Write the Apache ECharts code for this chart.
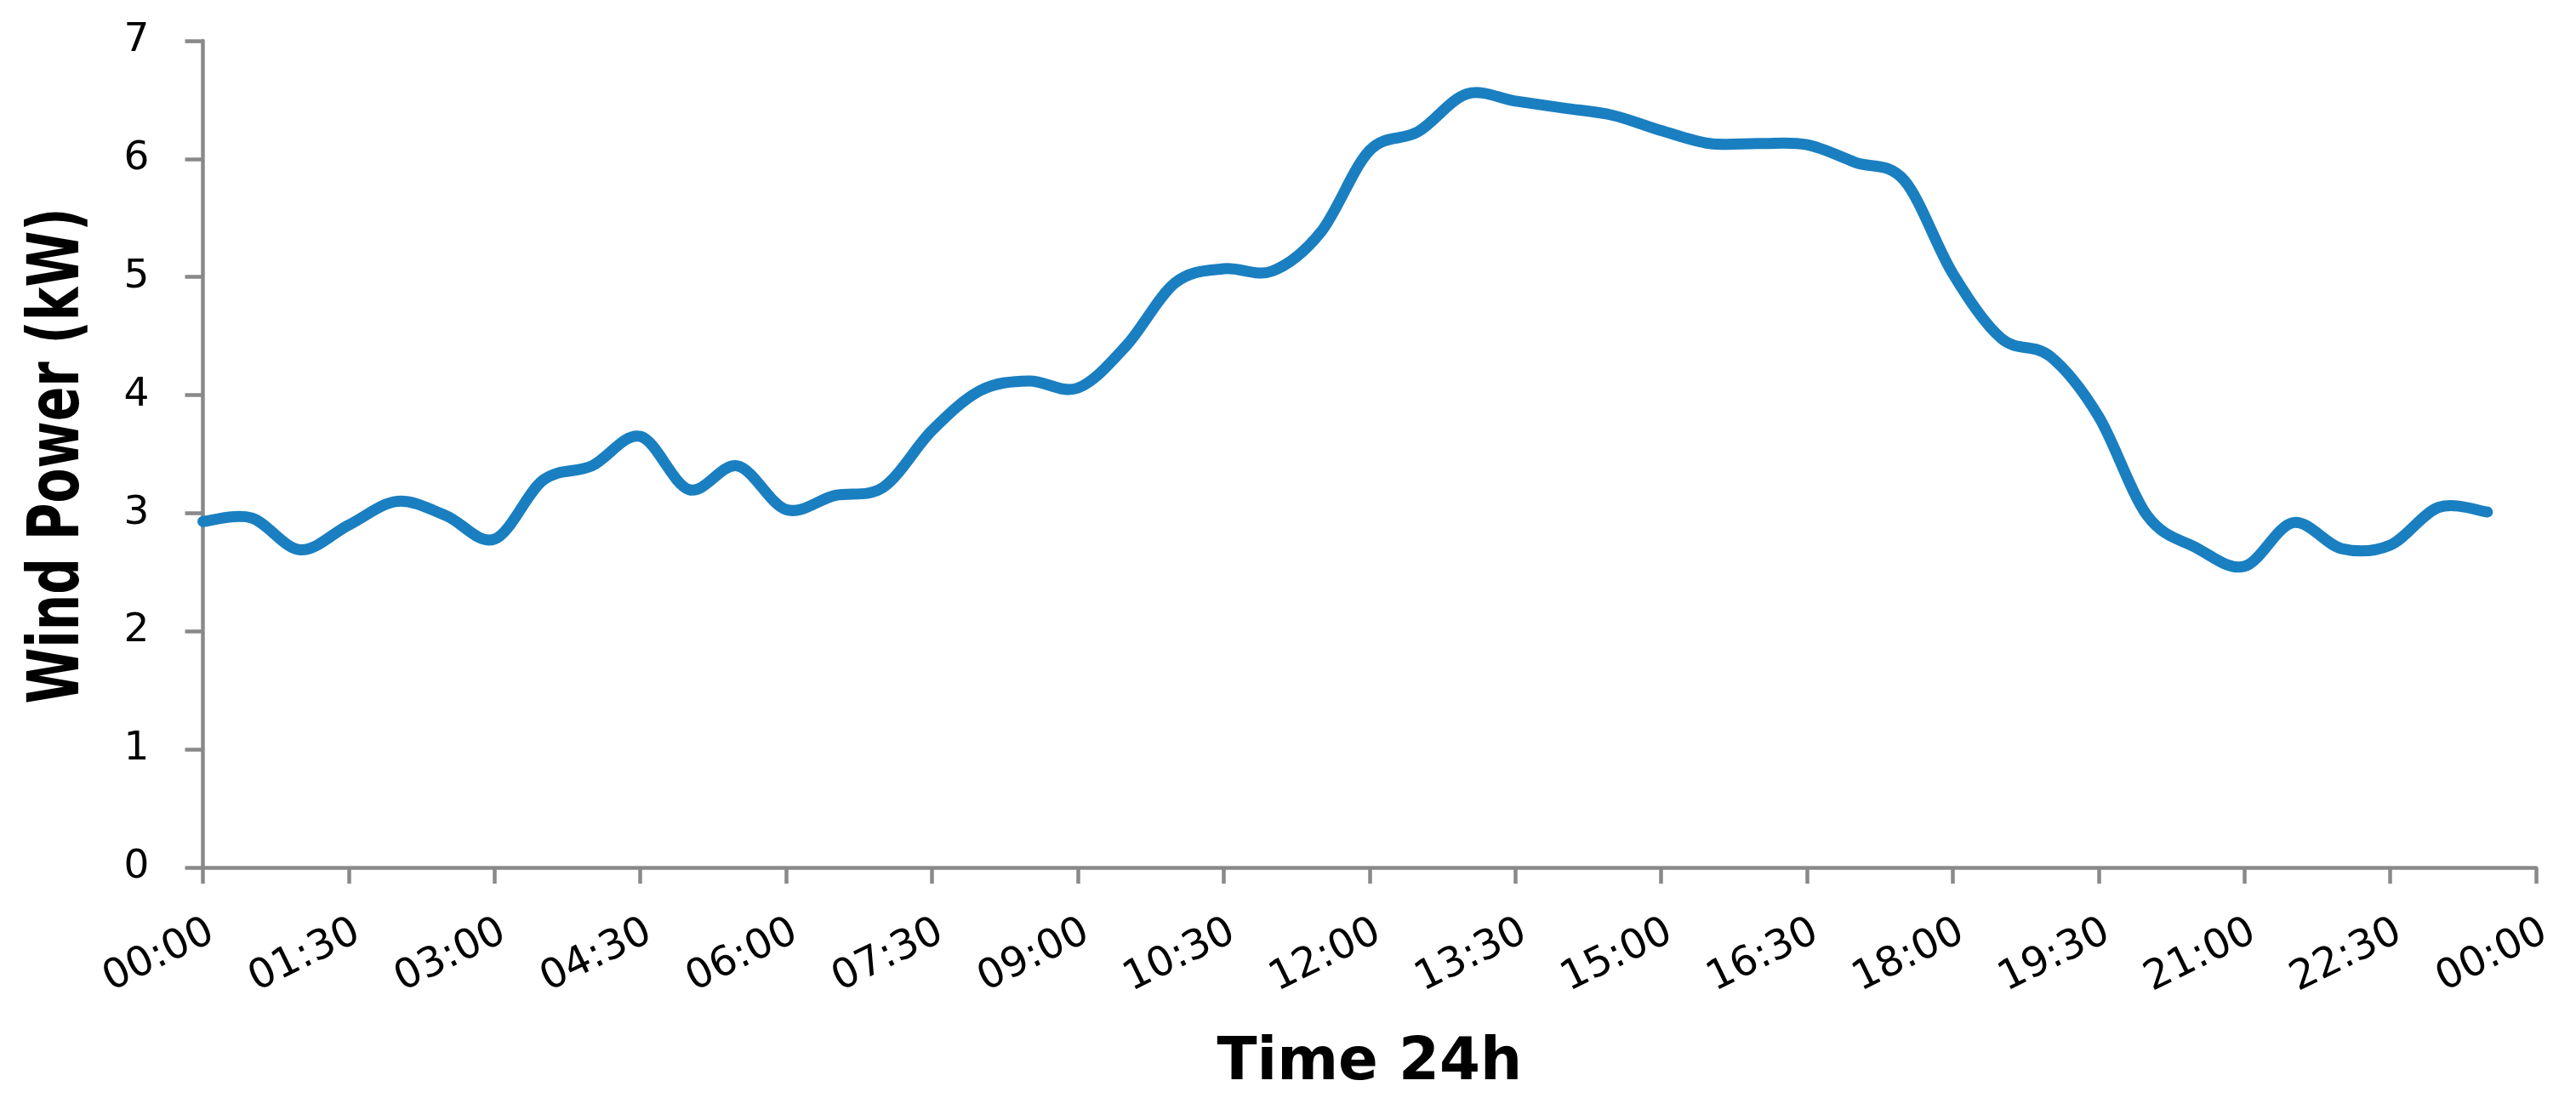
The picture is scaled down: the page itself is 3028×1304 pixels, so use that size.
<!DOCTYPE html>
<html>
<head>
<meta charset="utf-8">
<style>
  html, body { margin: 0; padding: 0; background: #ffffff; }
  #chart { width: 3028px; height: 1304px; }
</style>
<script src="https://cdn.jsdelivr.net/npm/echarts@6/dist/echarts.min.js"></script>
</head>
<body>
<div id="chart"></div>
<script>
// Half-hourly sample times (hh:mm)
const times = [
  "00:00","00:30","01:00","01:30","02:00","02:30","03:00","03:30",
  "04:00","04:30","05:00","05:30","06:00","06:30","07:00","07:30",
  "08:00","08:30","09:00","09:30","10:00","10:30","11:00","11:30",
  "12:00","12:30","13:00","13:30","14:00","14:30","15:00","15:30",
  "16:00","16:30","17:00","17:30","18:00","18:30","19:00","19:30",
  "20:00","20:30","21:00","21:30","22:00","22:30","23:00","23:30"
];
// Wind power (kW)
const windPower = [
  2.93, 2.96, 2.69, 2.90, 3.10, 2.98, 2.78, 3.28,
  3.40, 3.65, 3.20, 3.40, 3.03, 3.15, 3.22, 3.70,
  4.04, 4.12, 4.06, 4.42, 4.95, 5.07, 5.05, 5.38,
  6.07, 6.23, 6.55, 6.49, 6.43, 6.37, 6.24, 6.13,
  6.13, 6.12, 5.97, 5.82, 5.03, 4.48, 4.33, 3.82,
  2.98, 2.71, 2.55, 2.92, 2.70, 2.73, 3.05, 3.01
];
// X-axis tick labels (every 1.5 h)
const xTickLabels = [
  "00:00","01:30","03:00","04:30","06:00","07:30","09:00","10:30",
  "12:00","13:30","15:00","16:30","18:00","19:30","21:00","22:30","00:00"
];
const yTicks = [0, 1, 2, 3, 4, 5, 6, 7];
const xTitle = "Time 24h";
const yTitle = "Wind Power (kW)";

function toHours(s) {
  const p = s.split(":");
  return Number(p[0]) + Number(p[1]) / 60;
}
const seriesData = times.map((t, i) => [toHours(t), windPower[i]]);

// Smoothed line (Excel-like cardinal spline) drawn from axis coordinates
function renderSmoothLine(params, api) {
  if (params.dataIndex !== 0) return null;
  const pts = seriesData.map(d => api.coord(d));
  const n = pts.length;
  let d = 'M' + pts[0][0] + ' ' + pts[0][1];
  for (let i = 0; i < n - 1; i++) {
    const p0 = pts[Math.max(i - 1, 0)];
    const p1 = pts[i];
    const p2 = pts[i + 1];
    const p3 = pts[Math.min(i + 2, n - 1)];
    const c1x = p1[0] + (p2[0] - p0[0]) / 6;
    const c1y = p1[1] + (p2[1] - p0[1]) / 6;
    const c2x = p2[0] - (p3[0] - p1[0]) / 6;
    const c2y = p2[1] - (p3[1] - p1[1]) / 6;
    d += ' C' + c1x + ' ' + c1y + ' ' + c2x + ' ' + c2y + ' ' + p2[0] + ' ' + p2[1];
  }
  return {
    type: 'path',
    shape: { pathData: d },
    style: { fill: 'none', stroke: '#1a7fc0', lineWidth: 13, lineCap: 'round', lineJoin: 'round' }
  };
}

const axisGray = '#898989';
const chart = echarts.init(document.getElementById('chart'), null, { renderer: 'canvas' });
chart.setOption({
  animation: false,
  backgroundColor: '#ffffff',
  grid: { left: 238.5, right: 47, top: 48, bottom: 284, containLabel: false },
  graphic: [{
    type: 'text',
    x: 70,
    y: 536,
    rotation: Math.PI / 2,
    scaleX: 0.79,
    style: {
      text: yTitle,
      font: 'bold 84px "DejaVu Sans Condensed", "DejaVu Sans", sans-serif',
      fill: '#000',
      align: 'center',
      verticalAlign: 'middle'
    }
  }],
  xAxis: {
    type: 'value',
    min: 0, max: 24, interval: 1.5,
    name: xTitle,
    nameLocation: 'middle',
    nameGap: 197,
    nameTextStyle: { fontFamily: 'DejaVu Sans', fontWeight: 'bold', fontSize: 69, color: '#000' },
    axisLine: { show: true, lineStyle: { color: axisGray, width: 4.5 } },
    axisTick: { show: true, length: 19, lineStyle: { color: axisGray, width: 4.5 } },
    splitLine: { show: false },
    axisLabel: {
      rotate: 26,
      margin: 52,
      align: 'right',
      verticalAlign: 'top',
      fontFamily: 'DejaVu Sans',
      fontSize: 48,
      color: '#000',
      showMinLabel: true, showMaxLabel: true,
      formatter: function (v) {
        const idx = Math.round(v / 1.5);
        return xTickLabels[idx] !== undefined ? xTickLabels[idx] : '';
      }
    }
  },
  yAxis: {
    type: 'value',
    min: yTicks[0], max: yTicks[yTicks.length - 1], interval: 1,
    axisLine: { show: true, lineStyle: { color: axisGray, width: 4.5 } },
    axisTick: { show: true, length: 21, lineStyle: { color: axisGray, width: 4.5 } },
    splitLine: { show: false },
    axisLabel: {
      margin: 63,
      fontFamily: 'DejaVu Sans',
      fontSize: 47,
      color: '#000'
    }
  },
  series: [{
    type: 'custom',
    name: 'Wind Power',
    data: seriesData,
    encode: { x: 0, y: 1 },
    silent: true,
    renderItem: renderSmoothLine
  }]
});
</script>
</body>
</html>
